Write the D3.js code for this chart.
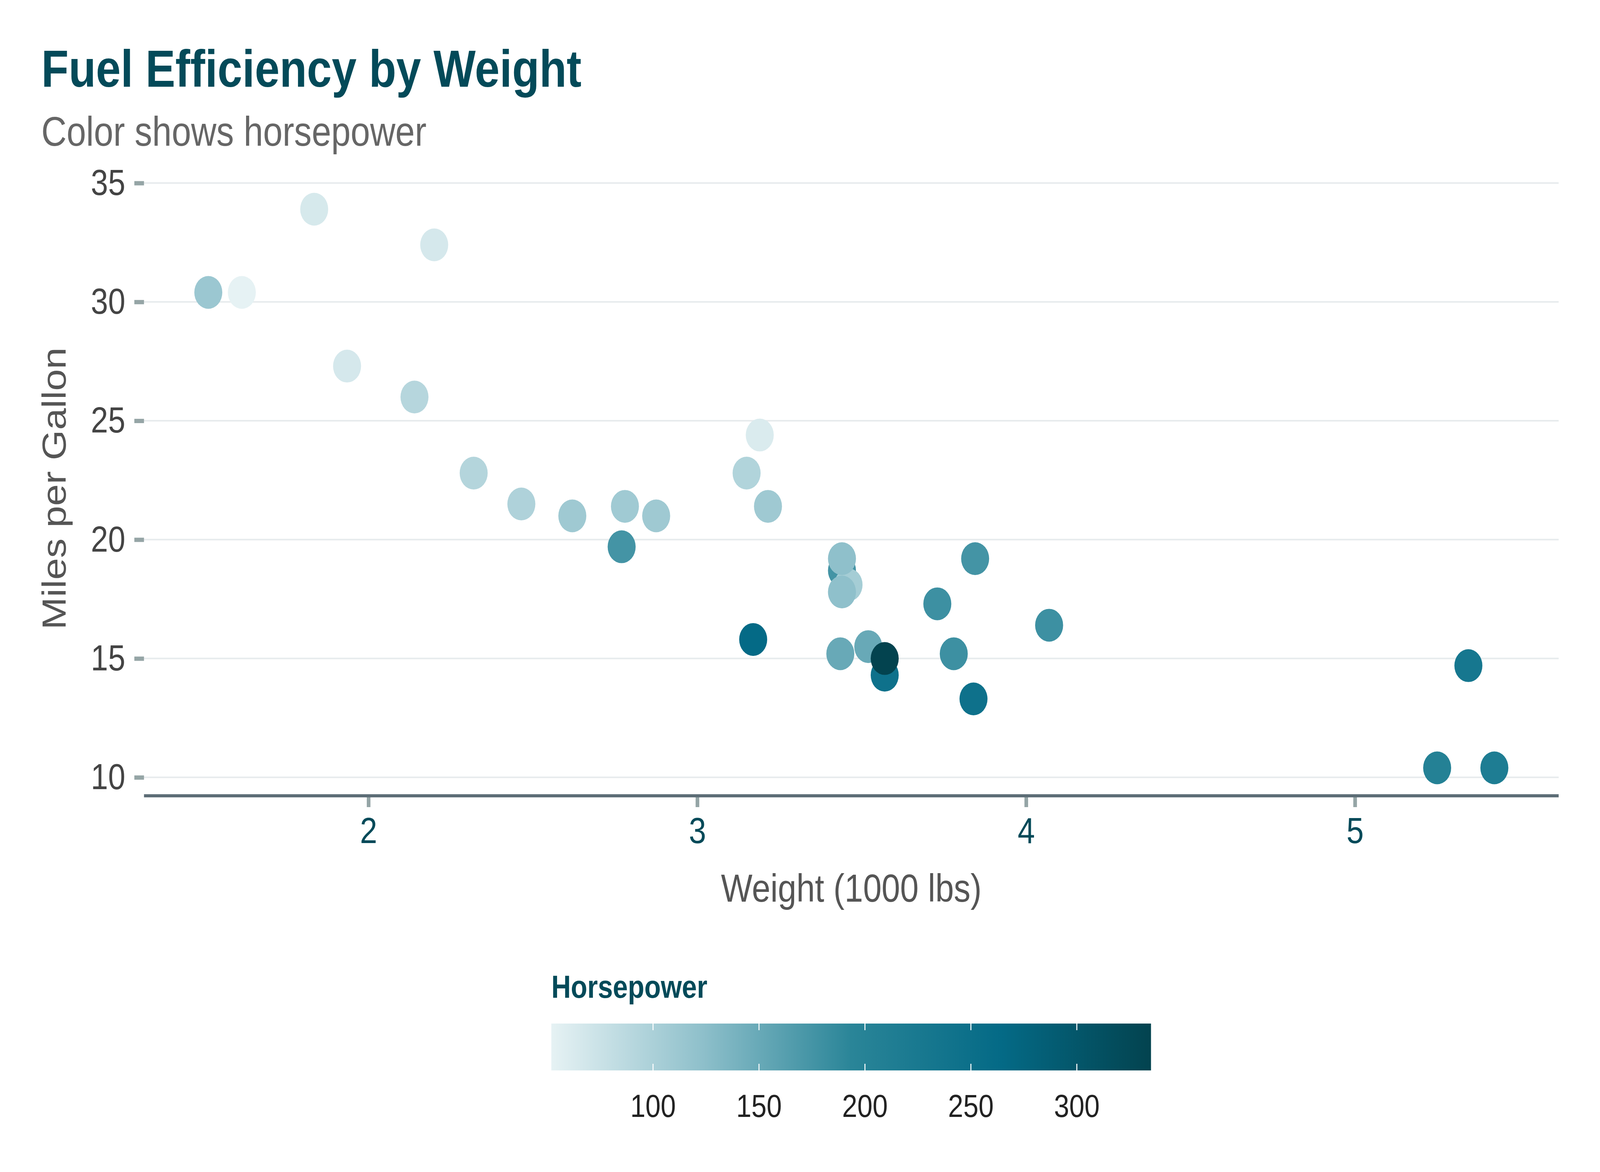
<!DOCTYPE html>
<html>
<head>
<meta charset="utf-8">
<script src="https://cdn.jsdelivr.net/npm/d3@7"></script>
<style>
  body { margin: 0; background: #fff; overflow: hidden; }
  svg { display: block; }
  text { font-family: "Liberation Sans", Arial, sans-serif; }
</style>
</head>
<body>
<div id="vis1"></div>
<script>
// mtcars, in row order (draw order matters for overlaps)
var weight = [2.620, 2.875, 2.320, 3.215, 3.440, 3.460, 3.570, 3.190, 3.150, 3.440, 3.440, 4.070, 3.730, 3.780, 5.250, 5.424, 5.345, 2.200, 1.615, 1.835, 2.465, 3.520, 3.435, 3.840, 3.845, 1.935, 2.140, 1.513, 3.170, 2.770, 3.570, 2.780];
var mpg = [21.0, 21.0, 22.8, 21.4, 18.7, 18.1, 14.3, 24.4, 22.8, 19.2, 17.8, 16.4, 17.3, 15.2, 10.4, 10.4, 14.7, 32.4, 30.4, 33.9, 21.5, 15.5, 15.2, 13.3, 19.2, 27.3, 26.0, 30.4, 15.8, 19.7, 15.0, 21.4];
var hp = [110, 110, 93, 110, 175, 105, 245, 62, 95, 123, 123, 180, 180, 180, 205, 215, 230, 66, 52, 65, 97, 150, 150, 245, 175, 66, 91, 113, 264, 175, 335, 109];

var xTicks = [2, 3, 4, 5];
var yTicks = [10, 15, 20, 25, 30, 35];
var hpTicks = [100, 150, 200, 250, 300];
var rampStops = [0, 0.25, 0.5, 0.75, 1];
var rampColors = ["#E6F2F4", "#8FC0CB", "#2A8598", "#046A86", "#03434F"];

var w = 4800;
var h = 3000;
// panel edges (don't call these top/left: window.top is read only)
var pL = 432, pR = 4676, pT = 464, pB = 2037;

// laid out at 4800x3000, stretched to whatever the window really is
var svg = d3.select("#vis1")
  .append("svg")
  .attr("width", window.innerWidth || w)
  .attr("height", window.innerHeight || h)
  .attr("viewBox", "0 0 " + w + " " + h)
  .attr("preserveAspectRatio", "none");

var data = weight.map(function(d, i) {
  return {wt: d, mpg: mpg[i], hp: hp[i]};
});

// ggplot style 5% expansion
var xr = d3.extent(weight), yr = d3.extent(mpg);
var xpad = (xr[1] - xr[0]) * 0.05, ypad = (yr[1] - yr[0]) * 0.05;
var x = d3.scaleLinear().domain([xr[0] - xpad, xr[1] + xpad]).range([pL, pR]);
var y = d3.scaleLinear().domain([yr[0] - ypad, yr[1] + ypad]).range([pB, pT]);

var hpExt = d3.extent(hp);
var t = d3.scaleLinear().domain(hpExt).range([0, 1]);
var ramp = d3.scaleLinear().domain(rampStops).range(rampColors).interpolate(d3.interpolateRgb);
var color = function(v) { return ramp(t(v)); };

// title
svg.append("text")
  .attr("x", 124).attr("y", 222)
  .attr("font-size", 134).attr("font-weight", "bold")
  .attr("fill", "#034A59")
  .text("Fuel Efficiency by Weight");
svg.append("text")
  .attr("x", 124).attr("y", 373)
  .attr("font-size", 105)
  .attr("fill", "#666666")
  .text("Color shows horsepower");

// grid
svg.append("g")
  .selectAll("line")
  .data(yTicks).enter()
  .append("line")
  .attr("x1", pL).attr("x2", pR)
  .attr("y1", function(d) { return y(d); })
  .attr("y2", function(d) { return y(d); })
  .attr("stroke", "#E7EBED")
  .attr("stroke-width", 4);

// y axis
var yAxis = svg.append("g")
  .attr("transform", "translate(" + pL + ",0)")
  .call(d3.axisLeft(y).tickValues(yTicks).tickFormat(d3.format("d")).tickSize(29).tickPadding(27));
yAxis.select(".domain").remove();
yAxis.selectAll(".tick line").attr("stroke", "#95A5A6").attr("stroke-width", 11);
yAxis.selectAll(".tick text")
  .attr("font-size", 93)
  .attr("font-family", "Liberation Sans, Arial, sans-serif")
  .attr("fill", "#444444");

// x axis
var xAxis = svg.append("g")
  .attr("transform", "translate(0," + pB + ")")
  .call(d3.axisBottom(x).tickValues(xTicks).tickFormat(d3.format("d")).tickSize(29).tickPadding(26));
xAxis.select(".domain").remove();
xAxis.selectAll(".tick line").attr("stroke", "#95A5A6").attr("stroke-width", 11);
xAxis.selectAll(".tick text")
  .attr("font-size", 93)
  .attr("font-family", "Liberation Sans, Arial, sans-serif")
  .attr("fill", "#034A59");
svg.append("line")
  .attr("x1", pL).attr("x2", pR)
  .attr("y1", pB).attr("y2", pB)
  .attr("stroke", "#5D6D76")
  .attr("stroke-width", 8);

// axis titles
svg.append("text")
  .attr("x", (pL + pR) / 2).attr("y", 2308)
  .attr("text-anchor", "middle")
  .attr("font-size", 100)
  .attr("fill", "#555555")
  .text("Weight (1000 lbs)");
svg.append("text")
  .attr("transform", "translate(197," + ((pT + pB) / 2) + ") rotate(-90)")
  .attr("text-anchor", "middle")
  .attr("font-size", 100)
  .attr("fill", "#555555")
  .text("Miles per Gallon");

// points
svg.append("g")
  .selectAll("circle")
  .data(data).enter()
  .append("circle")
  .attr("cx", function(d) { return x(d.wt); })
  .attr("cy", function(d) { return y(d.mpg); })
  .attr("r", 42)
  .attr("fill", function(d) { return color(d.hp); });

// legend
var lx0 = 1654, lx1 = 3453, ly = 2620, lh = 120;
var lscale = d3.scaleLinear().domain(hpExt).range([lx0, lx1]);

var defs = svg.append("defs");
var grad = defs.append("linearGradient").attr("id", "hpgrad")
  .attr("x1", "0%").attr("x2", "100%").attr("y1", "0%").attr("y2", "0%");
grad.selectAll("stop")
  .data(rampStops).enter()
  .append("stop")
  .attr("offset", function(d) { return (d * 100) + "%"; })
  .attr("stop-color", function(d, i) { return rampColors[i]; });

svg.append("text")
  .attr("x", 1654).attr("y", 2554)
  .attr("font-size", 81).attr("font-weight", "bold")
  .attr("fill", "#034A59")
  .text("Horsepower");

svg.append("rect")
  .attr("x", lx0).attr("y", ly)
  .attr("width", lx1 - lx0).attr("height", lh)
  .attr("fill", "url(#hpgrad)");

var lt = svg.append("g");
hpTicks.forEach(function(v) {
  var px = lscale(v);
  lt.append("line")
    .attr("x1", px).attr("x2", px).attr("y1", ly).attr("y2", ly + 17)
    .attr("stroke", "#fff").attr("stroke-width", 3);
  lt.append("line")
    .attr("x1", px).attr("x2", px).attr("y1", ly + lh - 17).attr("y2", ly + lh)
    .attr("stroke", "#fff").attr("stroke-width", 3);
  lt.append("text")
    .attr("x", px).attr("y", 2859)
    .attr("text-anchor", "middle")
    .attr("font-size", 82)
    .attr("fill", "#222222")
    .text(v);
});
</script>
</body>
</html>
